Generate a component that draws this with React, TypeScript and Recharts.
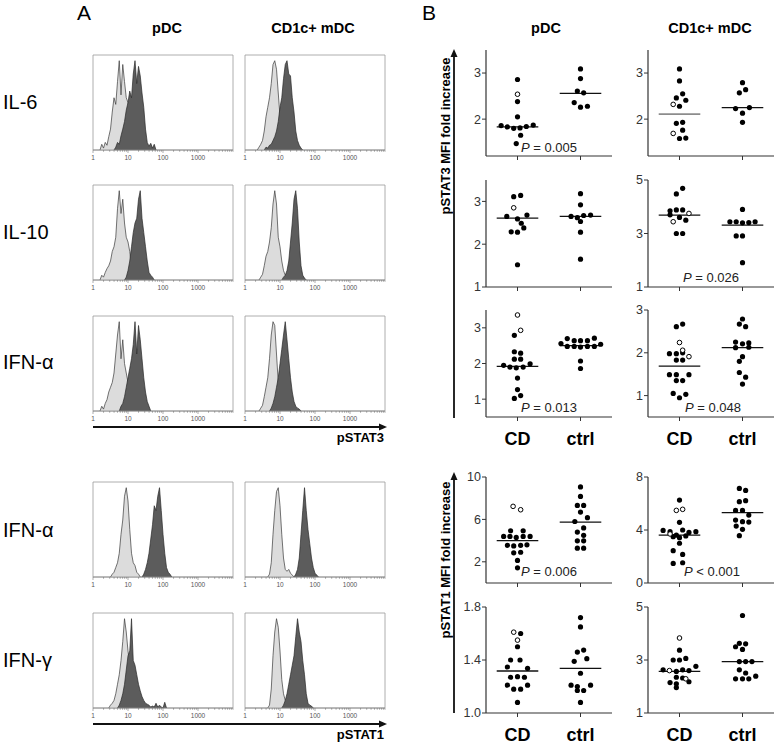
import React from 'react';
import {
  ComposedChart, Area, XAxis, YAxis, ReferenceArea,
  ScatterChart, Scatter, ReferenceLine,
} from 'recharts';

const FONT = '"Liberation Sans", Arial, Helvetica, sans-serif';

// ---------------- Panel A: flow histograms (x = log10 fluorescence, heights in % of box) --------
const BIN_STEP = 0.05;
const DECADES = [0, 1, 2, 3];
const DECADE_LABELS = ['1', '10', '100', '1000'];
const MINOR_MULT = [2, 3, 4, 5, 6, 7, 8, 9];

type HistSeries = { from: number; h: number[] };

const IL6_PDC_LIGHT: HistSeries = { from: 0.2, h: [0, 6, 2, 8, 5, 14, 22, 40, 55, 48, 72, 94, 58, 90, 72, 55, 50, 44, 50, 38, 20, 10, 4, 0] };
const IL6_PDC_DARK: HistSeries = { from: 0.6, h: [0, 3, 8, 6, 15, 22, 30, 42, 50, 62, 55, 80, 94, 70, 88, 78, 60, 45, 22, 8, 4, 7, 2, 6, 0] };
const IL6_MDC_LIGHT: HistSeries = { from: 0.35, h: [0, 3, 6, 10, 20, 35, 45, 55, 70, 90, 94, 85, 60, 35, 20, 10, 5, 2, 0] };
const IL6_MDC_DARK: HistSeries = { from: 0.55, h: [0, 3, 2, 5, 6, 10, 14, 20, 30, 45, 55, 75, 90, 94, 80, 78, 55, 40, 20, 10, 5, 2, 0] };
const IL10_PDC_LIGHT: HistSeries = { from: 0.2, h: [0, 5, 3, 8, 12, 15, 20, 30, 35, 45, 75, 94, 70, 85, 60, 45, 40, 30, 15, 8, 3, 0] };
const IL10_PDC_DARK: HistSeries = { from: 0.9, h: [0, 3, 10, 20, 35, 50, 60, 65, 85, 94, 65, 50, 35, 20, 8, 5, 3, 0] };
const IL10_MDC_LIGHT: HistSeries = { from: 0.4, h: [0, 3, 6, 15, 25, 30, 40, 55, 80, 94, 80, 45, 35, 20, 10, 5, 2, 0] };
const IL10_MDC_DARK: HistSeries = { from: 1.05, h: [0, 3, 5, 10, 20, 40, 60, 85, 94, 75, 40, 15, 5, 2, 0] };
const IFNA3_PDC_LIGHT: HistSeries = { from: 0.2, h: [0, 5, 2, 8, 12, 20, 25, 30, 40, 60, 80, 94, 55, 75, 50, 40, 30, 25, 15, 8, 3, 0] };
const IFNA3_PDC_DARK: HistSeries = { from: 0.75, h: [0, 5, 8, 15, 25, 35, 45, 55, 70, 94, 60, 90, 75, 55, 35, 20, 10, 5, 0] };
const IFNA3_MDC_LIGHT: HistSeries = { from: 0.4, h: [0, 3, 6, 15, 25, 35, 55, 80, 94, 90, 60, 30, 15, 8, 3, 0] };
const IFNA3_MDC_DARK: HistSeries = { from: 0.7, h: [0, 3, 8, 15, 25, 35, 50, 65, 80, 94, 75, 55, 35, 20, 10, 5, 3, 2, 0] };
const IFNA1_PDC_LIGHT: HistSeries = { from: 0.5, h: [0, 3, 5, 10, 15, 25, 45, 60, 85, 94, 80, 50, 25, 15, 12, 5, 3, 0] };
const IFNA1_PDC_DARK: HistSeries = { from: 1.4, h: [0, 3, 8, 15, 25, 40, 55, 75, 70, 85, 94, 70, 45, 25, 10, 5, 3, 0] };
const IFNA1_MDC_LIGHT: HistSeries = { from: 0.65, h: [0, 3, 15, 45, 70, 90, 94, 75, 45, 20, 8, 6, 8, 4, 2, 0] };
const IFNA1_MDC_DARK: HistSeries = { from: 1.4, h: [0, 3, 8, 20, 45, 70, 94, 70, 50, 35, 20, 10, 4, 2, 0] };
const IFNG_PDC_LIGHT: HistSeries = { from: 0.45, h: [0, 3, 5, 8, 15, 25, 35, 50, 70, 94, 80, 60, 45, 30, 20, 10, 5, 3, 0] };
const IFNG_PDC_DARK: HistSeries = { from: 0.7, h: [0, 3, 8, 15, 25, 40, 55, 60, 94, 50, 45, 35, 25, 18, 12, 8, 5, 4, 3, 1, 2, 1, 5, 1, 3, 1, 0, 6, 0] };
const IFNG_MDC_LIGHT: HistSeries = { from: 0.65, h: [0, 3, 20, 55, 80, 94, 85, 60, 30, 15, 8, 5, 3, 0] };
const IFNG_MDC_DARK: HistSeries = { from: 1.05, h: [0, 3, 8, 15, 25, 35, 45, 55, 75, 94, 80, 70, 50, 35, 15, 5, 3, 2, 0] };

const ROW_LABELS = ['IL-6', 'IL-10', 'IFN-α', 'IFN-α', 'IFN-γ'];
const COL_LABELS = ['pDC', 'CD1c+ mDC'];
const CATS = ['CD', 'ctrl'];

// ---------------- Panel B: dot plots, points as [jitter offset, fold increase] ----------------
type Pt = [number, number];

const R1_PDC_CD: Pt[] = [[0, 2.86], [0, 2.38], [0, 2.05], [-0.26, 1.86], [-0.16, 1.83], [-0.06, 1.8], [0.04, 1.81], [0.14, 1.84], [0.25, 1.87], [0.05, 1.65], [-0.02, 1.47]];
const R1_PDC_CD_OPEN: Pt[] = [[0, 2.54]];
const R1_PDC_CTRL: Pt[] = [[0, 3.09], [0, 2.88], [-0.05, 2.61], [0.05, 2.57], [-0.1, 2.36], [0, 2.26], [0.11, 2.28]];
const R1_PDC_MED = [1.83, 2.56];

const R1_MDC_CD: Pt[] = [[0, 3.09], [0, 2.83], [0.05, 2.55], [-0.05, 2.46], [0.1, 2.41], [0, 2.28], [-0.05, 1.91], [0.05, 1.93], [0.05, 1.76], [0, 1.58], [0.1, 1.59]];
const R1_MDC_CD_OPEN: Pt[] = [[-0.1, 2.32], [-0.1, 1.69]];
const R1_MDC_CTRL: Pt[] = [[0, 2.79], [0.05, 2.64], [-0.05, 2.57], [-0.11, 2.23], [0.11, 2.25], [0, 2.13], [0, 1.93]];
const R1_MDC_MED = [2.11, 2.25];

const R2_PDC_CD: Pt[] = [[-0.06, 3.11], [0.05, 3.14], [-0.17, 2.65], [0.15, 2.68], [0, 2.59], [0.06, 2.49], [0.1, 2.38], [-0.1, 2.29], [0, 2.28], [0, 1.52]];
const R2_PDC_CD_OPEN: Pt[] = [[-0.06, 2.85]];
const R2_PDC_CTRL: Pt[] = [[0, 3.18], [0, 2.92], [-0.15, 2.65], [-0.05, 2.62], [0.05, 2.67], [0.16, 2.68], [0, 2.53], [0, 2.28], [0, 1.65]];
const R2_PDC_MED = [2.61, 2.65];

const R2_MDC_CD: Pt[] = [[0.05, 4.69], [-0.05, 4.48], [-0.15, 3.85], [-0.05, 3.88], [0.05, 3.88], [-0.15, 3.7], [0, 3.6], [0.1, 3.5], [-0.05, 3.0], [0.05, 3.0]];
const R2_MDC_CD_OPEN: Pt[] = [[0.15, 3.75], [-0.1, 3.44]];
const R2_MDC_CTRL: Pt[] = [[0, 3.9], [-0.2, 3.44], [-0.1, 3.44], [0, 3.4], [0.1, 3.41], [0.2, 3.44], [-0.1, 2.91], [0, 2.91], [0, 1.91]];
const R2_MDC_MED = [3.69, 3.31];

const R3_PDC_CD: Pt[] = [[-0.05, 2.79], [-0.05, 2.33], [0.05, 2.29], [-0.05, 2.12], [0.05, 2.12], [-0.22, 1.95], [-0.12, 1.9], [-0.02, 1.88], [0.09, 1.9], [0.2, 1.99], [0, 1.59], [0, 1.27], [-0.05, 1.02], [0.05, 1.1]];
const R3_PDC_CD_OPEN: Pt[] = [[0, 3.36], [0.05, 2.93]];
const R3_PDC_CTRL: Pt[] = [[-0.21, 2.7], [-0.1, 2.64], [0, 2.64], [0.11, 2.64], [0.22, 2.71], [-0.31, 2.56], [-0.21, 2.48], [-0.1, 2.48], [0, 2.46], [0.11, 2.48], [0.22, 2.48], [0.32, 2.54], [0, 2.07], [0, 1.86]];
const R3_PDC_MED = [1.92, 2.5];

const R3_MDC_CD: Pt[] = [[-0.05, 2.61], [0.05, 2.67], [-0.16, 1.98], [-0.05, 1.98], [0.05, 2.0], [-0.05, 1.83], [0.05, 1.83], [-0.16, 1.49], [-0.05, 1.49], [0.15, 1.49], [-0.05, 1.35], [0.05, 1.35], [-0.1, 1.05], [0, 0.95], [0.1, 1.03]];
const R3_MDC_CD_OPEN: Pt[] = [[0, 2.24], [0.05, 2.06], [0.15, 1.91]];
const R3_MDC_CTRL: Pt[] = [[0, 2.79], [-0.05, 2.67], [0.05, 2.61], [-0.11, 2.25], [0, 2.21], [0.1, 2.23], [-0.11, 2.12], [0.1, 2.13], [0, 1.91], [-0.05, 1.8], [-0.05, 1.54], [0.05, 1.43], [0, 1.27]];
const R3_MDC_MED = [1.69, 2.12];

const R4_PDC_CD: Pt[] = [[-0.11, 4.93], [0.09, 4.93], [-0.22, 4.39], [-0.12, 4.39], [-0.02, 4.3], [0.09, 4.39], [0.2, 4.39], [-0.16, 3.55], [-0.06, 3.5], [0.05, 3.55], [0.15, 3.6], [-0.06, 2.85], [0.05, 2.9], [0, 2.13], [0, 1.43]];
const R4_PDC_CD_OPEN: Pt[] = [[-0.07, 7.23], [0.05, 6.91]];
const R4_PDC_CTRL: Pt[] = [[0, 9.06], [0, 8.17], [-0.05, 7.32], [0.05, 7.32], [0, 6.69], [0.11, 6.16], [-0.09, 5.8], [0.05, 5.2], [-0.05, 4.8], [0.05, 4.5], [-0.05, 3.98], [0.05, 3.98], [-0.05, 3.29], [0.05, 3.29]];
const R4_PDC_MED = [4.0, 5.75];

const R4_MDC_CD: Pt[] = [[0, 6.26], [0, 4.58], [-0.26, 3.97], [-0.15, 3.87], [-0.05, 3.62], [0.05, 4.0], [0.15, 3.82], [0.26, 3.87], [-0.1, 3.5], [0, 3.42], [0.1, 3.55], [0, 3.0], [-0.1, 2.44], [0.05, 2.16], [-0.1, 1.48], [0.05, 1.53]];
const R4_MDC_CD_OPEN: Pt[] = [[-0.05, 5.48], [0.05, 5.56], [-0.15, 3.7]];
const R4_MDC_CTRL: Pt[] = [[-0.05, 7.14], [0.05, 6.99], [-0.05, 6.14], [0.05, 6.21], [-0.11, 5.48], [0, 5.48], [0.1, 5.13], [-0.11, 4.75], [0, 4.63], [0.1, 4.6], [-0.1, 4.3], [0, 4.05], [-0.05, 3.57]];
const R4_MDC_MED = [3.62, 5.31];

const R5_PDC_CD: Pt[] = [[0.05, 1.6], [0, 1.5], [-0.11, 1.4], [0.04, 1.4], [-0.16, 1.347], [0.16, 1.337], [-0.11, 1.27], [0, 1.274], [0.11, 1.27], [-0.16, 1.21], [0.16, 1.21], [-0.06, 1.18], [0.05, 1.18], [0, 1.08]];
const R5_PDC_CD_OPEN: Pt[] = [[-0.06, 1.61], [0, 1.55]];
const R5_PDC_CTRL: Pt[] = [[0, 1.72], [0, 1.65], [-0.05, 1.46], [0.05, 1.475], [-0.1, 1.39], [0.1, 1.41], [0, 1.3], [-0.15, 1.21], [-0.05, 1.2], [0.16, 1.21], [-0.05, 1.17], [0.05, 1.17], [0, 1.08]];
const R5_PDC_MED = [1.317, 1.337];

const R5_MDC_CD: Pt[] = [[0, 3.37], [-0.1, 3.0], [0, 3.0], [0.1, 3.06], [-0.26, 2.63], [-0.05, 2.57], [0.05, 2.63], [0.15, 2.6], [0.26, 2.76], [-0.05, 2.35], [0.05, 2.32], [-0.15, 2.15], [-0.05, 2.1], [0.15, 2.18], [-0.05, 1.96]];
const R5_MDC_CD_OPEN: Pt[] = [[0, 3.83], [-0.16, 2.6], [0.1, 2.29]];
const R5_MDC_CTRL: Pt[] = [[0, 4.68], [-0.05, 3.63], [0.05, 3.61], [-0.11, 3.5], [0, 3.4], [-0.05, 2.94], [0.05, 2.94], [0.15, 2.94], [-0.05, 2.63], [0.05, 2.51], [-0.11, 2.29], [0, 2.29], [0.1, 2.29], [0.21, 2.39]];
const R5_MDC_MED = [2.57, 2.94];

const P_LABELS = ['= 0.005', '= 0.026', '= 0.013', '= 0.048', '= 0.006', '< 0.001'];

// ---------------- helpers ----------------
const HIST_TICKS: number[] = (() => {
  const t: number[] = [];
  DECADES.forEach((d) => {
    t.push(d);
    MINOR_MULT.forEach((m) => t.push(d + Math.log10(m)));
  });
  t.push(4);
  return t;
})();

function buildHist(light: HistSeries, dark: HistSeries) {
  const rows = new Map<number, any>();
  const add = (s: HistSeries, key: string) =>
    s.h.forEach((v, i) => {
      const x = Math.round((s.from + i * BIN_STEP) * 100) / 100;
      const r = rows.get(x) ?? { x };
      r[key] = v;
      rows.set(x, r);
    });
  add(light, 'light');
  add(dark, 'dark');
  return Array.from(rows.values()).sort((a, b) => a.x - b.x);
}

const HistTick = (props: any) => {
  const { x, y, payload } = props;
  const v = payload.value as number;
  const idx = DECADES.indexOf(v);
  const major = idx >= 0;
  return (
    <g>
      <line x1={x} x2={x} y1={y} y2={y + (major ? 3 : 1.8)} stroke="#777" strokeWidth={0.6} />
      {major && (
        <text x={x} y={y + 10} fontSize={6.5} fill="#555" textAnchor="middle">
          {DECADE_LABELS[idx]}
        </text>
      )}
    </g>
  );
};

const HIST_W = 140;
const HIST_H = 95;

function HistPanel({ left, top, light, dark }: { left: number; top: number; light: HistSeries; dark: HistSeries }) {
  const data = buildHist(light, dark);
  return (
    <div style={{ position: 'absolute', left: left - 4, top: top - 2 }}>
      <ComposedChart width={HIST_W + 8} height={HIST_H + 2 + 16} data={data} margin={{ top: 2, right: 4, bottom: 0, left: 4 }}>
        <XAxis
          type="number" dataKey="x" domain={[0, 4]} ticks={HIST_TICKS} interval={0}
          tickSize={0} tickMargin={0} tickLine={false} height={16}
          tick={(p: any) => <HistTick {...p} />}
          axisLine={{ stroke: '#8a8a8a', strokeWidth: 0.8 }} allowDataOverflow
        />
        <YAxis type="number" domain={[0, 100]} hide allowDataOverflow />
        <ReferenceArea x1={0} x2={4} y1={0} y2={100} fill="none" stroke="#9a9a9a" strokeWidth={0.8} ifOverflow="visible" />
        <Area type="linear" dataKey="light" fill="#dcdcdc" fillOpacity={1} stroke="#3a3a3a" strokeWidth={0.7} isAnimationActive={false} dot={false} activeDot={false} />
        <Area type="linear" dataKey="dark" fill="#5c5c5c" fillOpacity={1} stroke="#2a2a2a" strokeWidth={0.7} isAnimationActive={false} dot={false} activeDot={false} />
      </ComposedChart>
    </div>
  );
}

const FilledDot = (p: any) => <circle cx={p.cx} cy={p.cy} r={2.6} fill="#000" />;
const OpenDot = (p: any) => <circle cx={p.cx} cy={p.cy} r={2.3} fill="#fff" stroke="#000" strokeWidth={1} />;

const PLOT_W = 126;
const Y_AXIS_W = 40;

type ScatterProps = {
  left: number; top: number; h: number;
  domain: [number, number]; ticks: number[]; fmt?: (v: number) => string;
  cd: Pt[]; cdOpen: Pt[]; ctrl: Pt[]; med: number[]; medColor?: string; catLabels?: boolean;
};

function ScatterPanel(p: ScatterProps) {
  const xh = p.catLabels ? 36 : 8;
  const toPts = (arr: Pt[], g: number) => arr.map(([dx, y]) => ({ x: g + dx, y }));
  const fmt = p.fmt ?? ((v: number) => String(v));
  return (
    <div style={{ position: 'absolute', left: p.left - Y_AXIS_W, top: p.top - 6 }}>
      <ScatterChart width={Y_AXIS_W + PLOT_W + 6} height={6 + p.h + xh} margin={{ top: 6, right: 6, bottom: 0, left: 0 }}>
        <XAxis
          type="number" dataKey="x" domain={[-0.5, 1.5]} ticks={[0, 1]} interval={0}
          tickSize={4} tickMargin={11} height={xh}
          tickFormatter={(v: number) => (p.catLabels ? CATS[v] : '')}
          tick={{ fontSize: 18, fontWeight: 'bold', fill: '#000' }}
          axisLine={{ stroke: '#333', strokeWidth: 1.2 }} tickLine={{ stroke: '#333' }} allowDataOverflow
        />
        <YAxis
          type="number" dataKey="y" domain={p.domain} ticks={p.ticks} interval={0}
          width={Y_AXIS_W} tickSize={4} tickMargin={1} tickFormatter={fmt}
          tick={{ fontSize: 12.5, fill: '#333' }}
          axisLine={{ stroke: '#333', strokeWidth: 1.2 }} tickLine={{ stroke: '#333' }} allowDataOverflow
        />
        <ReferenceLine segment={[{ x: -0.33, y: p.med[0] }, { x: 0.33, y: p.med[0] }]} stroke={p.medColor ?? '#111'} strokeWidth={p.medColor ? 1.8 : 1.3} ifOverflow="visible" />
        <ReferenceLine segment={[{ x: 0.67, y: p.med[1] }, { x: 1.33, y: p.med[1] }]} stroke="#111" strokeWidth={1.3} ifOverflow="visible" />
        <Scatter data={toPts(p.cd, 0)} shape={FilledDot} isAnimationActive={false} />
        <Scatter data={toPts(p.cdOpen, 0)} shape={OpenDot} isAnimationActive={false} />
        <Scatter data={toPts(p.ctrl, 1)} shape={FilledDot} isAnimationActive={false} />
      </ScatterChart>
    </div>
  );
}

const PText = ({ x, y, label }: { x: number; y: number; label: string }) => (
  <text x={x} y={y} fontSize={13} textAnchor="middle" fill="#222">
    <tspan fontStyle="italic">P</tspan> {label}
  </text>
);

export default function App() {
  const histRows = [
    { top: 55, light: [IL6_PDC_LIGHT, IL6_MDC_LIGHT], dark: [IL6_PDC_DARK, IL6_MDC_DARK] },
    { top: 185, light: [IL10_PDC_LIGHT, IL10_MDC_LIGHT], dark: [IL10_PDC_DARK, IL10_MDC_DARK] },
    { top: 316, light: [IFNA3_PDC_LIGHT, IFNA3_MDC_LIGHT], dark: [IFNA3_PDC_DARK, IFNA3_MDC_DARK] },
    { top: 482, light: [IFNA1_PDC_LIGHT, IFNA1_MDC_LIGHT], dark: [IFNA1_PDC_DARK, IFNA1_MDC_DARK] },
    { top: 613, light: [IFNG_PDC_LIGHT, IFNG_MDC_LIGHT], dark: [IFNG_PDC_DARK, IFNG_MDC_DARK] },
  ];
  const histLefts = [93, 245];
  const L1 = 486;
  const L2 = 648;
  const fmt1 = (v: number) => v.toFixed(1);

  return (
    <div style={{ position: 'absolute', left: 0, top: 0, width: 777, height: 747, background: '#fff', fontFamily: FONT, overflow: 'hidden' }}>
      {histRows.map((r, i) =>
        histLefts.map((l, j) => (
          <HistPanel key={`h${i}${j}`} left={l} top={r.top} light={r.light[j]} dark={r.dark[j]} />
        ))
      )}

      <ScatterPanel left={L1} top={50} h={106} domain={[1.2, 3.5]} ticks={[2, 3]} cd={R1_PDC_CD} cdOpen={R1_PDC_CD_OPEN} ctrl={R1_PDC_CTRL} med={R1_PDC_MED} />
      <ScatterPanel left={L2} top={50} h={106} domain={[1.2, 3.5]} ticks={[2, 3]} cd={R1_MDC_CD} cdOpen={R1_MDC_CD_OPEN} ctrl={R1_MDC_CTRL} med={R1_MDC_MED} medColor="#8c8c8c" />
      <ScatterPanel left={L1} top={180} h={107} domain={[1, 3.5]} ticks={[1, 2, 3]} cd={R2_PDC_CD} cdOpen={R2_PDC_CD_OPEN} ctrl={R2_PDC_CTRL} med={R2_PDC_MED} />
      <ScatterPanel left={L2} top={180} h={107} domain={[1, 5]} ticks={[1, 3, 5]} cd={R2_MDC_CD} cdOpen={R2_MDC_CD_OPEN} ctrl={R2_MDC_CTRL} med={R2_MDC_MED} />
      <ScatterPanel left={L1} top={310} h={107} domain={[0.5, 3.5]} ticks={[1, 2, 3]} cd={R3_PDC_CD} cdOpen={R3_PDC_CD_OPEN} ctrl={R3_PDC_CTRL} med={R3_PDC_MED} catLabels />
      <ScatterPanel left={L2} top={310} h={107} domain={[0.5, 3]} ticks={[1, 2, 3]} cd={R3_MDC_CD} cdOpen={R3_MDC_CD_OPEN} ctrl={R3_MDC_CTRL} med={R3_MDC_MED} catLabels />
      <ScatterPanel left={L1} top={477} h={106} domain={[0, 10]} ticks={[2, 6, 10]} cd={R4_PDC_CD} cdOpen={R4_PDC_CD_OPEN} ctrl={R4_PDC_CTRL} med={R4_PDC_MED} />
      <ScatterPanel left={L2} top={477} h={106} domain={[0, 8]} ticks={[0, 4, 8]} cd={R4_MDC_CD} cdOpen={R4_MDC_CD_OPEN} ctrl={R4_MDC_CTRL} med={R4_MDC_MED} />
      <ScatterPanel left={L1} top={607} h={106} domain={[1.0, 1.8]} ticks={[1.0, 1.4, 1.8]} fmt={fmt1} cd={R5_PDC_CD} cdOpen={R5_PDC_CD_OPEN} ctrl={R5_PDC_CTRL} med={R5_PDC_MED} catLabels />
      <ScatterPanel left={L2} top={607} h={106} domain={[1, 5]} ticks={[1, 3, 5]} cd={R5_MDC_CD} cdOpen={R5_MDC_CD_OPEN} ctrl={R5_MDC_CTRL} med={R5_MDC_MED} catLabels />

      <svg width={777} height={747} style={{ position: 'absolute', left: 0, top: 0, pointerEvents: 'none' }} fontFamily={FONT}>
        {/* panel letters */}
        <text x={77} y={20} fontSize={21} fill="#000">A</text>
        <text x={422} y={19.5} fontSize={21} fill="#000">B</text>

        {/* column headers */}
        <text x={167} y={33} fontSize={14.5} fontWeight="bold" textAnchor="middle">{COL_LABELS[0]}</text>
        <text x={313} y={33} fontSize={14.5} fontWeight="bold" textAnchor="middle">{COL_LABELS[1]}</text>
        <text x={546} y={33} fontSize={14.5} fontWeight="bold" textAnchor="middle">{COL_LABELS[0]}</text>
        <text x={710} y={33} fontSize={14.5} fontWeight="bold" textAnchor="middle">{COL_LABELS[1]}</text>

        {/* row labels */}
        {[109, 239, 369, 537, 667].map((y, i) => (
          <text key={i} x={3} y={y} fontSize={20} fill="#000">{ROW_LABELS[i]}</text>
        ))}

        {/* panel A arrows */}
        <line x1={93} y1={427} x2={381} y2={427} stroke="#111" strokeWidth={2} />
        <polygon points="387,427 379,423.5 379,430.5" fill="#111" />
        <text x={384} y={442} fontSize={13} fontWeight="bold" textAnchor="end">pSTAT3</text>
        <line x1={93} y1={724} x2={381} y2={724} stroke="#111" strokeWidth={2} />
        <polygon points="387,724 379,720.5 379,727.5" fill="#111" />
        <text x={384} y={739} fontSize={13} fontWeight="bold" textAnchor="end">pSTAT1</text>

        {/* panel B y-axis arrows and titles */}
        <line x1={454} y1={418} x2={454} y2={56} stroke="#111" strokeWidth={1.8} />
        <polygon points="454,49 450.5,57 457.5,57" fill="#111" />
        <text x={445} y={136} fontSize={13} fontWeight="bold" textAnchor="middle" dominantBaseline="central" transform="rotate(-90 445 136)">pSTAT3 MFI fold increase</text>
        <line x1={454} y1={713} x2={454} y2={479} stroke="#111" strokeWidth={1.8} />
        <polygon points="454,472 450.5,480 457.5,480" fill="#111" />
        <text x={445} y={560} fontSize={13} fontWeight="bold" textAnchor="middle" dominantBaseline="central" transform="rotate(-90 445 560)">pSTAT1 MFI fold increase</text>

        {/* p-values */}
        <PText x={549} y={152} label={P_LABELS[0]} />
        <PText x={711} y={282} label={P_LABELS[1]} />
        <PText x={549} y={412} label={P_LABELS[2]} />
        <PText x={713} y={412} label={P_LABELS[3]} />
        <PText x={549} y={576} label={P_LABELS[4]} />
        <PText x={712} y={576} label={P_LABELS[5]} />
      </svg>
    </div>
  );
}
